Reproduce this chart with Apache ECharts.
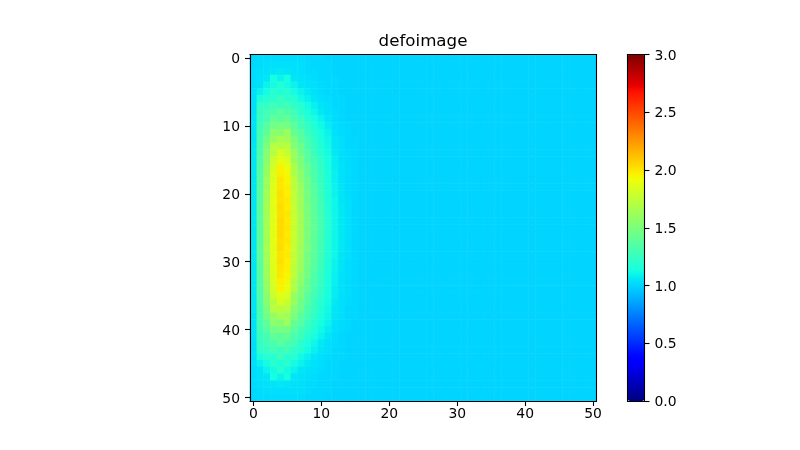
<!DOCTYPE html>
<html><head><meta charset="utf-8">
<style>html,body{margin:0;padding:0;background:#fff}#c{width:800px;height:450px}</style>
<script src="https://cdn.jsdelivr.net/npm/echarts@6/dist/echarts.min.js"></script>
</head><body><div id="c"></div>
<script>
const chartTitle = 'defoimage';
const gridSize = 51;
const backgroundValue = 1.0;
const tickStep = 10;
const colorMin = 0, colorMax = 3, colorStep = 0.5;
// hundredths above 1.00, columns 0..15; other columns are background
const rowsNearEdge = [
[1,2,2,2,2,2,2,2,1,1,1,0,0,0,0,0],
[1,2,3,3,3,3,3,3,2,1,1,1,0,0,0,0],
[2,3,4,5,6,5,4,3,2,2,1,1,0,0,0,0],
[2,4,5,13,9,13,5,4,3,2,1,1,1,0,0,0],
[2,4,9,12,18,12,9,5,4,3,2,1,1,0,0,0],
[3,8,12,20,16,20,12,9,6,4,2,1,1,0,0,0],
[3,14,19,19,26,20,19,11,8,5,3,2,1,1,0,0],
[3,22,23,29,25,29,21,19,12,8,5,3,1,1,0,0],
[3,24,29,31,38,32,29,20,15,10,6,3,2,1,0,0],
[4,25,29,41,37,42,31,27,19,14,9,5,2,1,0,0],
[4,28,37,46,49,47,39,29,24,17,11,7,3,2,1,0],
[4,30,39,56,53,62,42,36,26,20,13,9,4,2,1,0],
[4,31,47,59,66,63,51,37,31,22,15,10,5,3,1,1],
[5,32,49,72,71,72,52,45,32,25,17,11,5,3,1,1],
[5,33,55,71,83,77,61,45,37,26,19,12,6,3,2,1],
[5,34,54,79,87,84,60,51,37,29,21,13,7,3,2,1],
[5,35,59,81,96,89,69,51,43,30,23,14,7,4,2,1],
[5,36,59,85,97,94,68,57,42,33,24,15,8,4,2,1],
[5,36,63,84,100,95,74,56,47,33,25,15,8,4,2,1],
[5,37,61,87,100,97,73,61,45,36,26,16,9,5,2,1],
[5,37,65,86,102,97,77,60,49,36,27,16,9,5,2,1],
[5,38,63,88,101,99,74,63,47,38,28,17,10,5,3,1],
[5,38,66,87,103,98,78,62,50,38,29,17,10,6,3,1],
[5,38,64,88,102,100,76,65,48,39,29,18,10,6,3,1],
[5,38,66,87,104,99,79,63,51,39,30,18,10,6,3,1],
[5,38,65,88,103,100,77,65,49,40,30,18,10,6,3,1],
[5,38,66,87,104,99,79,63,51,39,30,18,10,6,3,1],
[5,38,64,88,102,100,76,65,48,39,29,18,10,6,3,1],
[5,38,66,87,103,98,78,62,50,38,29,17,10,6,3,1],
[5,38,63,88,101,99,74,63,47,38,28,17,10,5,3,1],
[5,37,65,86,102,97,77,60,49,36,27,16,9,5,2,1],
[5,37,61,87,100,97,73,61,45,36,26,16,9,5,2,1],
[5,36,63,84,100,95,74,56,47,33,25,15,8,4,2,1],
[5,36,59,85,97,94,68,57,42,33,24,15,8,4,2,1],
[5,35,59,81,96,89,69,51,43,30,23,14,7,4,2,1],
[5,34,54,79,87,84,60,51,37,29,21,13,7,3,2,1],
[5,33,55,71,83,77,61,45,37,26,19,12,6,3,2,1],
[5,32,49,72,71,72,52,45,32,25,17,11,5,3,1,1],
[4,31,47,59,66,63,51,37,31,22,15,10,5,3,1,1],
[4,30,39,56,53,62,42,36,26,20,13,9,4,2,1,0],
[4,28,37,46,49,47,39,29,24,17,11,7,3,2,1,0],
[4,25,29,41,37,42,31,27,19,14,9,5,2,1,0,0],
[3,24,29,31,38,32,29,20,15,10,6,3,2,1,0,0],
[3,22,23,29,25,29,21,19,12,8,5,3,1,1,0,0],
[3,14,19,19,26,20,19,11,8,5,3,2,1,1,0,0],
[3,8,12,20,16,20,12,9,6,4,2,1,1,0,0,0],
[2,4,9,12,18,12,9,5,4,3,2,1,1,0,0,0],
[2,4,5,13,9,13,5,4,3,2,1,1,1,0,0,0],
[2,3,4,5,6,5,4,3,2,2,1,1,0,0,0,0],
[1,2,3,3,3,3,3,3,2,1,1,1,0,0,0,0],
[1,2,2,2,2,2,2,2,1,1,1,0,0,0,0,0]
];
const jetRed = [[0,0],[0.35,0],[0.66,1],[0.89,1],[1,0.5]];
const jetGreen = [[0,0],[0.125,0],[0.375,1],[0.64,1],[0.91,0],[1,0]];
const jetBlue = [[0,0.5],[0.11,1],[0.34,1],[0.65,0],[1,0]];
function seg(a,t){for(let i=1;i<a.length;i++){if(t<=a[i][0]){return a[i-1][1]+(a[i][1]-a[i-1][1])*(t-a[i-1][0])/(a[i][0]-a[i-1][0]);}}return a[a.length-1][1];}
const jet=[];
for(let i=0;i<256;i++){const t=i/255;jet.push('rgb('+Math.round(seg(jetRed,t)*255)+','+Math.round(seg(jetGreen,t)*255)+','+Math.round(seg(jetBlue,t)*255)+')');}
const cats=[];for(let i=0;i<gridSize;i++)cats.push(String(i));
const cells=[];
for(let r=0;r<gridSize;r++){for(let c=0;c<gridSize;c++){
  const extra=c<rowsNearEdge[r].length?rowsNearEdge[r][c]:0;
  cells.push([c,r,backgroundValue+extra/100]);
}}
const font='"DejaVu Sans"', tc='#000';
const labelStyle={fontFamily:font,fontSize:13.9,color:tc,margin:5};
const yRich={a:{fontFamily:font,fontSize:13.9,color:tc,padding:[3,0,0,0]}};
const yLabelStyle={...labelStyle,margin:10,rich:yRich};
const lineStyle={lineStyle:{color:tc,width:1.1}};
const tickEvery=(i)=>i%tickStep===0;
const chart=echarts.init(document.getElementById('c'),null,{renderer:'canvas'});
chart.setOption({
  animation:false,backgroundColor:'#fff',
  title:{text:chartTitle,left:423,top:33,textAlign:'center',textStyle:{fontFamily:font,fontSize:16.67,fontWeight:'normal',color:tc},padding:0},
  grid:[{left:250,top:54.5,width:346.5,height:346.5,containLabel:false},
        {left:627.5,top:54.5,width:17,height:346.5,containLabel:false}],
  xAxis:[
   {type:'category',gridIndex:0,data:cats,position:'bottom',z:10,axisLine:{show:true,...lineStyle},
    axisTick:{show:true,length:5,alignWithLabel:true,interval:tickEvery,...lineStyle},
    axisLabel:{...labelStyle,margin:6,interval:tickEvery},splitLine:{show:false}},
   {type:'category',gridIndex:0,data:cats,position:'top',z:10,axisLine:{show:true,onZero:false,...lineStyle},axisTick:{show:false},axisLabel:{show:false},splitLine:{show:false}},
   {type:'value',gridIndex:1,min:0,max:1,position:'bottom',z:10,axisLine:{show:true,onZero:false,...lineStyle},axisTick:{show:false},axisLabel:{show:false},splitLine:{show:false}},
   {type:'value',gridIndex:1,min:0,max:1,position:'top',z:10,axisLine:{show:true,onZero:false,...lineStyle},axisTick:{show:false},axisLabel:{show:false},splitLine:{show:false}}
  ],
  yAxis:[
   {type:'category',gridIndex:0,data:cats,inverse:true,position:'left',z:10,axisLine:{show:true,...lineStyle},
    axisTick:{show:true,length:5,alignWithLabel:true,interval:tickEvery,...lineStyle},
    axisLabel:{...yLabelStyle,interval:tickEvery,formatter:(v)=>'{a|'+v+'}'},splitLine:{show:false}},
   {type:'category',gridIndex:0,data:cats,inverse:true,position:'right',z:10,axisLine:{show:true,onZero:false,...lineStyle},axisTick:{show:false},axisLabel:{show:false},splitLine:{show:false}},
   {type:'value',gridIndex:1,min:colorMin,max:colorMax,interval:colorStep,position:'right',z:10,axisLine:{show:true,onZero:false,...lineStyle},
    axisTick:{show:true,length:5,...lineStyle},axisLabel:{...yLabelStyle,formatter:(v)=>'{a|'+v.toFixed(1)+'}'},splitLine:{show:false}},
   {type:'value',gridIndex:1,min:colorMin,max:colorMax,interval:colorStep,position:'left',z:10,axisLine:{show:true,onZero:false,...lineStyle},axisTick:{show:false},axisLabel:{show:false},splitLine:{show:false}}
  ],
  visualMap:{type:'continuous',min:colorMin,max:colorMax,seriesIndex:0,calculable:false,realtime:false,hoverLink:false,
    left:627.5,top:54.5,itemWidth:17,itemHeight:346.5,padding:0,borderWidth:0,showLabel:false,text:null,inRange:{color:jet},z:5},
  series:[{type:'heatmap',xAxisIndex:0,yAxisIndex:0,data:cells,progressive:0,silent:true,itemStyle:{borderWidth:0},emphasis:{disabled:true}}]
});
</script></body></html>
